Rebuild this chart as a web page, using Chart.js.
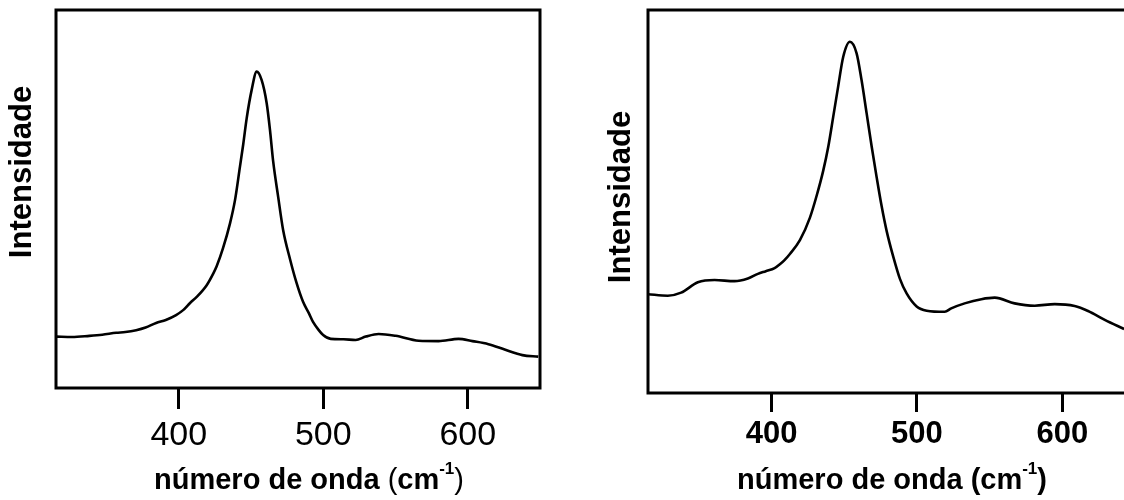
<!DOCTYPE html>
<html><head><meta charset="utf-8">
<script src="https://cdn.jsdelivr.net/npm/chart.js@4/dist/chart.umd.min.js"></script>
<style>
html,body{margin:0;padding:0;background:#fff;overflow:hidden;width:1124px;height:500px;}
#a{position:absolute;left:0;top:0;width:560px;height:500px;}
#b{position:absolute;left:560px;top:0;width:600px;height:500px;}
</style></head><body>
<div id="a"><canvas id="c1"></canvas></div>
<div id="b"><canvas id="c2"></canvas></div>
<script>
// ---- data ----
const xTickValues = [400, 500, 600];
const leftWavenumber = [315.3,326.0,338.1,347.0,356.7,363.0,370.5,377.0,384.3,391.0,398.1,403.0,407.8,412.4,419.3,424.0,426.2,430.6,435.4,438.9,442.3,444.6,447.0,450.4,453.9,457.3,460.8,463.1,465.3,468.8,472.2,476.9,481.5,486.0,490.0,493.0,496.9,499.9,505.2,514.0,522.4,529.4,538.3,550.1,566.0,579.8,593.6,603.2,614.3,626.0,637.8,648.8];
const leftIntensity  = [13.6,13.5,13.8,14.1,14.6,14.8,15.3,16.0,17.2,18.0,19.3,20.6,22.5,24.1,27.2,30.4,32.2,37.0,43.5,49.7,58.5,64.5,71.4,78.8,83.7,81.5,75.4,68.3,60.0,50.5,41.8,34.2,27.8,22.8,19.8,17.4,15.3,14.0,13.0,12.9,12.7,13.6,14.3,13.8,12.5,12.4,13.0,12.4,11.6,10.1,8.7,8.3];
const rightWavenumber = [314.9,328.6,337.8,349.3,360.8,374.5,383.7,390.6,396.0,402.1,405.7,408.9,412.6,419.5,426.4,431.0,435.5,439.0,442.4,445.8,449.3,453.9,458.5,461.9,465.4,468.8,472.3,475.7,479.1,483.7,488.3,492.9,499.8,506.7,519.1,523.6,532.8,544.3,553.5,567.2,581.0,594.8,608.5,617.7,629.2,642.5];
const rightIntensity  = [25.8,25.4,26.2,28.9,29.5,29.2,29.9,31.1,31.8,32.6,33.6,34.7,36.3,39.9,45.8,51.5,58.0,64.3,72.1,80.0,87.8,91.7,88.7,81.7,73.0,64.5,56.3,48.8,42.4,35.6,29.8,26.0,22.6,21.5,21.2,22.1,23.4,24.5,24.9,23.4,22.8,23.2,22.7,21.4,19.1,16.7];
const yTitleText = 'Intensidade';
const xTitleText = 'número de onda ';
const xUnitText = 'cm';
const xUnitSup = '-1';

const FONT = "'Liberation Sans', Arial, Helvetica, sans-serif";

const framePlugin = {
  id: 'frame',
  afterDatasetsDraw(chart) {
    const a = chart.chartArea, ctx = chart.ctx;
    ctx.save();
    ctx.strokeStyle = '#000';
    ctx.lineWidth = 3;
    ctx.strokeRect(a.left, a.top, a.right - a.left, a.bottom - a.top);
    ctx.restore();
  }
};

const titlePlugin = {
  id: 'axisTitles',
  afterDraw(chart, args, opts) {
    const ctx = chart.ctx;
    ctx.save();
    ctx.fillStyle = '#000';
    ctx.textBaseline = 'alphabetic';
    const xs = opts.x;
    let total = 0;
    const segs = xs.segments.map(s => {
      const f = (s.bold ? 'bold ' : '') + (s.sup ? xs.supSize : xs.size) + 'px ' + FONT;
      ctx.font = f;
      const w = ctx.measureText(s.t).width;
      total += w;
      return {t: s.t, f, w, sup: s.sup};
    });
    let x = xs.cx - total / 2;
    ctx.textAlign = 'left';
    segs.forEach(s => {
      ctx.font = s.f;
      ctx.fillText(s.t, x, xs.baseline - (s.sup ? xs.supRaise : 0));
      x += s.w;
    });
    const ys = opts.y;
    ctx.font = 'bold ' + ys.size + 'px ' + FONT;
    ctx.translate(ys.bx, ys.cy);
    ctx.rotate(-Math.PI / 2);
    ctx.textAlign = 'center';
    ctx.fillText(ys.text, 0, 0);
    ctx.restore();
  }
};

function makeChart(id, xs, ys, cfg) {
  const pts = xs.map((v, i) => ({x: v, y: ys[i]}));
  return new Chart(document.getElementById(id), {
    type: 'line',
    data: { datasets: [{ data: pts, borderColor: '#000', borderWidth: 2.6, pointRadius: 0, fill: false, cubicInterpolationMode: 'monotone' }] },
    options: {
      responsive: true, maintainAspectRatio: false, animation: false, devicePixelRatio: 1,
      layout: { padding: cfg.padding },
      plugins: { legend: {display: false}, tooltip: {enabled: false}, axisTitles: cfg.titles },
      scales: {
        x: {
          type: 'linear', min: 315, max: 650,
          afterFit(s) { s.height = cfg.xHeight; },
          afterBuildTicks(s) { s.ticks = xTickValues.map(v => ({value: v})); },
          grid: { display: true, drawOnChartArea: false, drawTicks: true, tickLength: cfg.tickLength, tickWidth: 3, tickColor: '#000' },
          border: { display: false },
          ticks: { color: '#000', font: cfg.tickFont, padding: cfg.tickPadding, maxRotation: 0, autoSkip: false, callback: v => String(v) }
        },
        y: { display: false, min: 0, max: 100 }
      }
    },
    plugins: [framePlugin, titlePlugin]
  });
}

makeChart('c1', leftWavenumber, leftIntensity, {
  padding: {left: 56, top: 10, right: 20, bottom: 0},
  xHeight: 112, tickLength: 21, tickPadding: 6,
  tickFont: {family: FONT, size: 34},
  titles: {
    x: { cx: 309, baseline: 489, size: 29, supSize: 17, supRaise: 15,
         segments: [{t: xTitleText, bold: true}, {t: '(', bold: false}, {t: xUnitText, bold: true}, {t: xUnitSup, bold: true, sup: true}, {t: ')', bold: false}] },
    y: { text: yTitleText, size: 31, bx: 31, cy: 172 }
  }
});

makeChart('c2', rightWavenumber, rightIntensity, {
  padding: {left: 88, top: 10, right: 25, bottom: 0},
  xHeight: 107, tickLength: 19, tickPadding: 4,
  tickFont: {family: FONT, size: 31, weight: 'bold'},
  titles: {
    x: { cx: 332, baseline: 489, size: 29, supSize: 17, supRaise: 15,
         segments: [{t: xTitleText + '(', bold: true}, {t: xUnitText, bold: true}, {t: xUnitSup, bold: true, sup: true}, {t: ')', bold: true}] },
    y: { text: yTitleText, size: 31, bx: 70, cy: 197 }
  }
});
</script>
</body></html>
